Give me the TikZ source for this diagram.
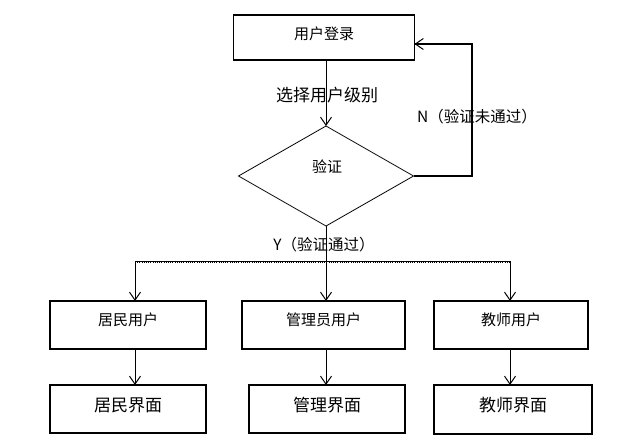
\documentclass[tikz,border=0pt]{standalone}
\usepackage{fontspec}
\setmainfont{Noto Sans CJK SC}
\usetikzlibrary{shapes.geometric,arrows.meta}
\begin{document}
\begin{tikzpicture}[x=1pt,y=-1pt,
  box/.style={draw, line width=1.1pt, rectangle, inner sep=0pt, outer sep=0pt},
  arr/.style={line width=1pt, -{Straight Barb[length=8pt,width=11pt,line width=1pt]}},
  lbl/.style={inner sep=0pt, font=\fontsize{15.5}{17}\selectfont},
  boxtxt/.style={inner sep=0pt, font=\fontsize{15}{16}\selectfont},
  bigtxt/.style={inner sep=0pt, font=\fontsize{17}{18}\selectfont}]
\useasboundingbox (0,0) rectangle (642,447);
\fill[white] (0,0) rectangle (642,447);
% top box
\node[box, minimum width=181pt, minimum height=45pt] (login) at (324,37.5) {};
\node[boxtxt] (logintxt) at (324,34) {用户登录};
% diamond
\node[draw, line width=0.8pt, diamond, minimum width=175pt, minimum height=100pt, inner sep=0pt, outer sep=0pt] (dia) at (326,176) {};
\node[boxtxt] (diatxt) at (327,167) {验证};
% arrow login -> diamond
\draw[arr] (login.south -| dia.north) -- (dia.north);
\node[bigtxt] (sel) at (327,95) {选择用户级别};
% feedback loop
\coordinate (fbin) at (414,44);
\coordinate (fbr) at (472,176);
\coordinate (fbt) at (472,44);
\draw[line width=2.4pt] (dia.east) -- (fbr) -- (fbt) -- (fbin);
\draw[arr, line width=1pt] (fbt) -- ([xshift=0.5pt]fbin);
\node[lbl] (ntxt) at (477,117) {N（验证未通过）};
% row 1 boxes
\node[box, minimum width=156pt, minimum height=48pt] (r1) at (128,325) {};
\node[boxtxt] (r1t) at (128,320) {居民用户};
\node[box, minimum width=163pt, minimum height=48pt] (r2) at (323.5,325) {};
\node[boxtxt] (r2t) at (323.5,320) {管理员用户};
\node[box, minimum width=154pt, minimum height=48pt] (r3) at (511,325) {};
\node[boxtxt] (r3t) at (511,320) {教师用户};
% row 2 boxes
\node[box, minimum width=156pt, minimum height=48pt] (s1) at (128,409) {};
\node[bigtxt] (s1t) at (128,405) {居民界面};
\node[box, minimum width=156pt, minimum height=48pt] (s2) at (327,409) {};
\node[bigtxt] (s2t) at (327,405) {管理界面};
\node[box, minimum width=158pt, minimum height=49pt] (s3) at (513,409.5) {};
\node[bigtxt] (s3t) at (513,405) {教师界面};
% branch
\coordinate (bl) at (135,261);
\coordinate (bm) at (326,261);
\coordinate (br) at (510,261);
\draw[line width=0.9pt] (bl) -- (br);
\draw[line width=2pt, dash pattern=on 0.6pt off 1.6pt] ([yshift=-1pt]bl) -- ([yshift=-1pt]br);
\draw[arr] (dia.south) -- (dia.south |- r2.north);
\draw[arr] (bl) -- (bl |- r1.north);
\draw[arr] (br) -- (br |- r3.north);
\node[lbl] (ytxt) at (324,245) {Y（验证通过）};
% row1 -> row2
\draw[arr] (r1.south -| bl) -- (s1.north -| bl);
\draw[arr] (r2.south -| bm) -- (s2.north -| bm);
\draw[arr] (r3.south -| br) -- (s3.north -| br);
\end{tikzpicture}
\end{document}
